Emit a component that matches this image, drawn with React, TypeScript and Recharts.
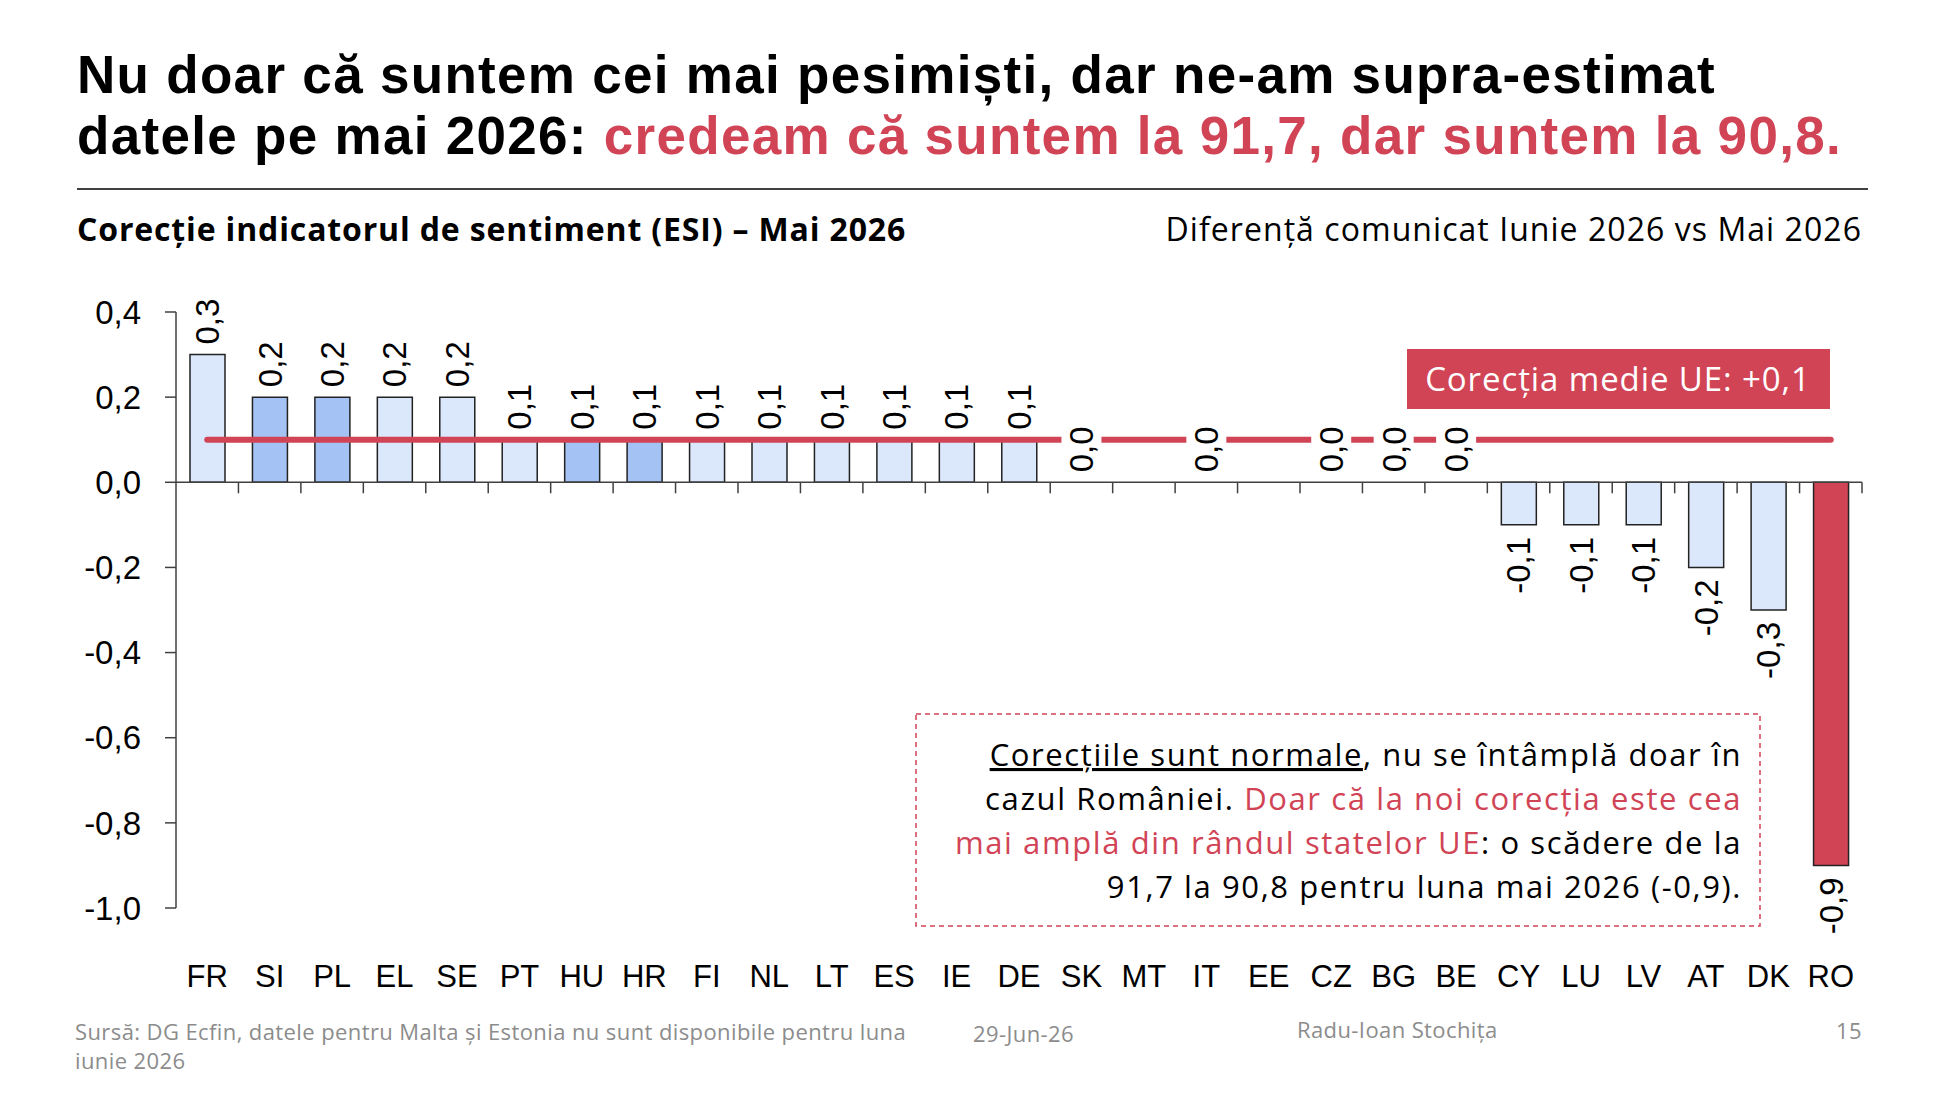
import { Bar, Cell, ComposedChart, ReferenceLine, Scatter, XAxis, YAxis } from 'recharts'

const countries = ['FR', 'SI', 'PL', 'EL', 'SE', 'PT', 'HU', 'HR', 'FI', 'NL', 'LT', 'ES', 'IE', 'DE', 'SK', 'MT', 'IT', 'EE', 'CZ', 'BG', 'BE', 'CY', 'LU', 'LV', 'AT', 'DK', 'RO']
const corrections: (number | null)[] = [0.3, 0.2, 0.2, 0.2, 0.2, 0.1, 0.1, 0.1, 0.1, 0.1, 0.1, 0.1, 0.1, 0.1, 0.0, null, 0.0, null, 0.0, 0.0, 0.0, -0.1, -0.1, -0.1, -0.2, -0.3, -0.9]
const highlighted = ['SI', 'PL', 'HU', 'HR']
const romania = 'RO'
const meanEU = 0.1
const yTicks = [0.4, 0.2, 0, -0.2, -0.4, -0.6, -0.8, -1.0]

const RED = '#d14456'
const LIGHT = '#dbe7fb'
const BLUE = '#a4c2f4'
const AXIS = '#404040'
const CHART_FONT = '"Liberation Sans", Arial, sans-serif'
const SLIDE_FONT = '"Open Sans", Roboto, sans-serif'
const LABEL_SIZE = 33

const data = countries.map((c, i) => ({ c, v: corrections[i] }))

const fmt = (v: number) => v.toFixed(1).replace('.', ',').replace('-0,0', '0,0')

// rough Arial advance widths, to size the white box behind the labels
const textLen = (s: string) =>
  s.split('').reduce((a, ch) => a + (ch === ',' ? 0.278 : ch === '-' ? 0.333 : 0.556), 0) * LABEL_SIZE

const ValueLabel = (p: any) => {
  const v = p.payload?.v
  if (v == null || !Number.isFinite(p.cy) || !Number.isFinite(p.cx)) return <g />
  const { cx, cy } = p
  const text = fmt(v)
  const len = textLen(text)
  if (v >= 0) {
    const y0 = cy - 10
    return (
      <g>
        <rect x={cx - 20} y={y0 - len - 2} width={40} height={len + 3} fill="#fff" />
        <text x={cx} y={y0} transform={`rotate(-90, ${cx}, ${y0})`} textAnchor="start" dy="0.36em"
          fontFamily={CHART_FONT} fontSize={LABEL_SIZE} fill="#000">{text}</text>
      </g>
    )
  }
  const y0 = cy + 12
  return (
    <g>
      <rect x={cx - 20} y={y0 - 1} width={40} height={len + 3} fill="#fff" />
      <text x={cx} y={y0} transform={`rotate(-90, ${cx}, ${y0})`} textAnchor="end" dy="0.36em"
        fontFamily={CHART_FONT} fontSize={LABEL_SIZE} fill="#000">{text}</text>
    </g>
  )
}

const ZeroAxis = (p: any) => {
  const { x1, x2, y1 } = p
  const step = (x2 - x1) / countries.length
  return (
    <g>
      <line x1={x1} x2={x2} y1={y1} y2={y1} stroke={AXIS} strokeWidth={1.5} />
      {countries.map((c, i) => (
        <line key={c} x1={x1 + (i + 1) * step} x2={x1 + (i + 1) * step} y1={y1} y2={y1 + 11} stroke={AXIS} strokeWidth={1.5} />
      ))}
    </g>
  )
}

export default function App() {
  return (
    <div style={{ position: 'absolute', left: 0, top: 0, width: 1938, height: 1098, background: '#fff', overflow: 'hidden' }}>
      <div style={{ position: 'absolute', left: 0, top: 0 }}>
        <ComposedChart width={1938} height={1098} data={data} margin={{ top: 312, right: 76, bottom: 110, left: 0 }}>
          <XAxis
            dataKey="c"
            height={80}
            axisLine={false}
            tickLine={false}
            tickSize={0}
            tickMargin={57}
            interval={0}
            tick={{ fontFamily: CHART_FONT, fontSize: 31, fill: '#000' }}
          />
          <YAxis
            width={176}
            domain={[-1, 0.4]}
            ticks={yTicks}
            tickFormatter={fmt}
            tickSize={11}
            tickMargin={24}
            stroke={AXIS}
            axisLine={{ stroke: AXIS, strokeWidth: 1.5 }}
            tickLine={{ stroke: AXIS, strokeWidth: 1.5 }}
            tick={{ fontFamily: CHART_FONT, fontSize: 33, fill: '#000' }}
          />
          <Bar dataKey="v" barSize={35} stroke="#222" strokeWidth={1.5} isAnimationActive={false}>
            {data.map(d => (
              <Cell key={d.c} fill={d.c === romania ? RED : highlighted.includes(d.c) ? BLUE : LIGHT} />
            ))}
          </Bar>
          <ReferenceLine y={0} shape={ZeroAxis} {...({ zIndex: 350 } as any)} />
          <ReferenceLine
            segment={[{ x: countries[0], y: meanEU }, { x: countries[countries.length - 1], y: meanEU }]}
            stroke={RED}
            strokeWidth={6}
            strokeLinecap="round"
            {...({ zIndex: 450 } as any)}
          />
          <Scatter dataKey="v" shape={ValueLabel} isAnimationActive={false} {...({ zIndex: 2100 } as any)} />
        </ComposedChart>
      </div>

      <svg width={1938} height={1098} style={{ position: 'absolute', left: 0, top: 0, pointerEvents: 'none' }}>
        <g fontFamily={CHART_FONT} fontSize={53} fontWeight={700} letterSpacing={1.3} fill="#000">
          <text x={77} y={93}>Nu doar că suntem cei mai pesimiști, dar ne-am supra-estimat</text>
          <text x={77} y={154}>
            datele pe mai 2026: <tspan fill={RED}>credeam că suntem la 91,7, dar suntem la 90,8.</tspan>
          </text>
        </g>
        <g fontFamily={SLIDE_FONT}>
          <line x1={77} x2={1868} y1={189} y2={189} stroke={AXIS} strokeWidth={2} />
          <text x={77} y={241} fontSize={32} fontWeight={700} letterSpacing={0.85} fill="#000">
            Corecție indicatorul de sentiment (ESI) – Mai 2026
          </text>
          <text x={1862} y={241} fontSize={32} letterSpacing={1.05} textAnchor="end" fill="#000">
            Diferență comunicat Iunie 2026 vs Mai 2026
          </text>

          <rect x={1407} y={349} width={423} height={60} fill={RED} />
          <text x={1618} y={391} fontSize={33} letterSpacing={0.9} textAnchor="middle" fill="#fff">Corecția medie UE: +0,1</text>

          <rect x={916} y={714} width={844} height={212} fill="none" stroke={RED} strokeWidth={1.5} strokeDasharray="5 4" />
          <g fontSize={31} letterSpacing={1.6} textAnchor="end">
            <text x={1742} y={766} fill="#000">
              <tspan textDecoration="underline" style={{ textDecoration: 'underline' }}>Corecțiile sunt normale</tspan>, nu se întâmplă doar în
            </text>
            <text x={1742} y={810} fill="#000">
              cazul României. <tspan fill={RED}>Doar că la noi corecția este cea</tspan>
            </text>
            <text x={1742} y={854} fill="#000">
              <tspan fill={RED}>mai amplă din rândul statelor UE</tspan>: o scădere de la
            </text>
            <text x={1742} y={898} fill="#000">91,7 la 90,8 pentru luna mai 2026 (-0,9).</text>
          </g>

          <g fontSize={22} letterSpacing={0.4} fill="#8c8c8c">
            <text x={75} y={1040}>Sursă: DG Ecfin, datele pentru Malta și Estonia nu sunt disponibile pentru luna</text>
            <text x={75} y={1069}>iunie 2026</text>
            <text x={973} y={1042}>29-Jun-26</text>
            <text x={1297} y={1038}>Radu-Ioan Stochița</text>
            <text x={1862} y={1039} textAnchor="end">15</text>
          </g>
        </g>
      </svg>
    </div>
  )
}
